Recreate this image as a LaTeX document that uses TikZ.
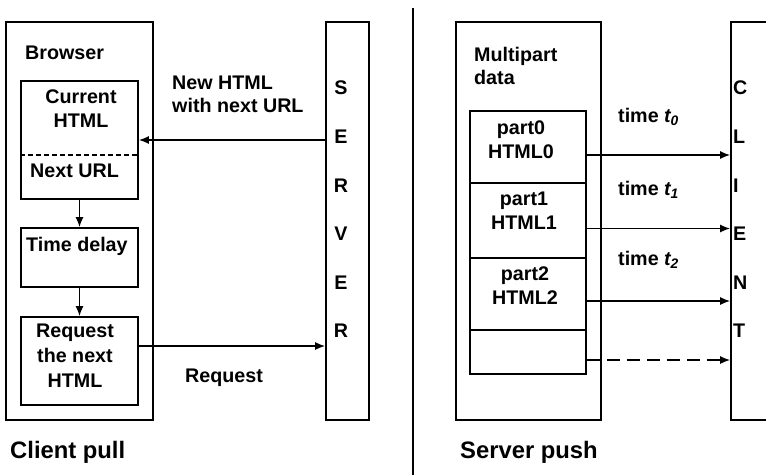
\documentclass[tikz,border=0pt]{standalone}
\usepackage{fontspec}
\setmainfont{Liberation Sans}
\usetikzlibrary{arrows.meta}

\begin{document}
\begin{tikzpicture}[x=1pt, y=-1pt, >={Latex[length=10pt,width=8pt]},
        font=\fontsize{19.7}{24}\selectfont\bfseries,
        box/.style={draw, line width=1.6pt, inner sep=0pt},
        txt/.style={inner sep=0pt, align=left},
        big/.style={inner sep=0pt, font=\fontsize{23.8}{28}\selectfont\bfseries},
        letters/.style={inner sep=0pt, font=\fontsize{19.7}{48.6}\selectfont\bfseries},
        link/.style={->, line width=1.6pt}]

        \useasboundingbox (0,0) rectangle (766,475);
        \clip (0,0) rectangle (766,475);

        % -----------------------
        % 1. Client pull: browser
        % -----------------------
        \node[box, minimum width=147pt, minimum height=398pt] (browser) at (79.5,221) {};
        \node[txt, anchor=base west] (browsertitle) at (25,59) {Browser};

        \node[box, minimum width=117pt, minimum height=118pt] (cur) at (79.5,140) {};
        \draw[dashed, line width=1.1pt, dash pattern=on 5pt off 3pt]
            ([yshift=-15pt]cur.west) -- ([yshift=-15pt]cur.east);
        \node[txt, align=center, anchor=north] (curtext) at (81,90) {Current\\HTML};
        \node[txt, anchor=base west] (nexturl) at (30,177) {Next URL};

        \node[box, minimum width=117pt, minimum height=59pt] (delay) at (79.5,257.5) {};
        \node[txt, anchor=base west] (delaytext) at (26,251) {Time delay};

        \node[box, minimum width=117pt, minimum height=88pt] (req) at (79.5,361) {};
        \node[txt, align=center, anchor=north, font=\fontsize{19.7}{25}\selectfont\bfseries]
            (reqtext) at (75,324) {Request\\the next\\HTML};

        % -----------------------
        % 2. Server column
        % -----------------------
        \node[box, minimum width=43pt, minimum height=398pt] (server) at (347.5,221) {};
        \node[letters, align=center] (serverword) at (341,209.5) {S\\E\\R\\V\\E\\R};

        % -----------------------
        % Client pull: links
        % -----------------------
        \draw[link] (server.west |- cur.east) -- (cur.east);
        \node[txt, anchor=north west, font=\fontsize{19.7}{23}\selectfont\bfseries]
            (newhtml) at (172,76) {New HTML\\with next URL};
        \draw[link] (cur.south) -- (delay.north);
        \draw[link] (delay.south) -- (req.north);
        \coordinate (reqout) at ([yshift=15pt]req.east);
        \draw[link] (reqout) -- (reqout -| server.west);
        \node[txt, anchor=base west] (reqlabel) at (185,382) {Request};

        \node[big, anchor=base west] (pulltitle) at (10,458.5) {Client pull};

        % divider between the two halves
        \draw[line width=1.4pt] (413,8) -- (413,475);

        % -----------------------
        % 3. Server push: multipart data
        % -----------------------
        \node[box, minimum width=145pt, minimum height=398pt] (multi) at (528.5,221) {};
        \node[txt, anchor=north west, font=\fontsize{19.7}{23}\selectfont\bfseries]
            (multititle) at (474,47) {Multipart\\data};

        \node[box, minimum width=116pt, minimum height=72pt] (p0) at (528,147) {};
        \node[box, minimum width=116pt, minimum height=75pt] (p1) at (528,220.5) {};
        \node[box, minimum width=116pt, minimum height=72pt] (p2) at (528,294) {};
        \node[box, minimum width=116pt, minimum height=44pt] (p3) at (528,352) {};

        \node[txt, align=center, anchor=north] (p0text) at ([shift={(-7pt,-10pt)}]p0.north) {part0\\HTML0};
        \node[txt, align=center, anchor=north] (p1text) at ([shift={(-4pt,-10pt)}]p1.north) {part1\\HTML1};
        \node[txt, align=center, anchor=north] (p2text) at ([shift={(-3pt,-9pt)}]p2.north) {part2\\HTML2};

        % -----------------------
        % 4. Client column
        % -----------------------
        \node[box, minimum width=60pt, minimum height=398pt] (client) at (761,221) {};
        \node[letters, align=left, anchor=west] (clientword) at (733,209.5) {C\\L\\I\\E\\N\\T};

        % -----------------------
        % Server push: links
        % -----------------------
        \coordinate (out0) at ([yshift=-8pt]p0.east);
        \coordinate (out1) at ([yshift=-8pt]p1.east);
        \coordinate (out2) at ([yshift=-7pt]p2.east);
        \coordinate (out3) at ([yshift=-8pt]p3.east);
        \draw[link] (out0) -- (out0 -| client.west);
        \draw[link] (out1) -- (out1 -| client.west);
        \draw[link] (out2) -- (out2 -| client.west);
        \draw[link, dash pattern=on 13pt off 7pt] (out3) -- (out3 -| client.west);

        \node[txt, anchor=base west] (time0) at (618,122) {time \textit{t\textsubscript{0}}};
        \node[txt, anchor=base west] (time1) at (618,195) {time \textit{t\textsubscript{1}}};
        \node[txt, anchor=base west] (time2) at (618,265) {time \textit{t\textsubscript{2}}};

        \node[big, anchor=base west] (pushtitle) at (460,458.5) {Server push};

    \end{tikzpicture}
\end{document}
